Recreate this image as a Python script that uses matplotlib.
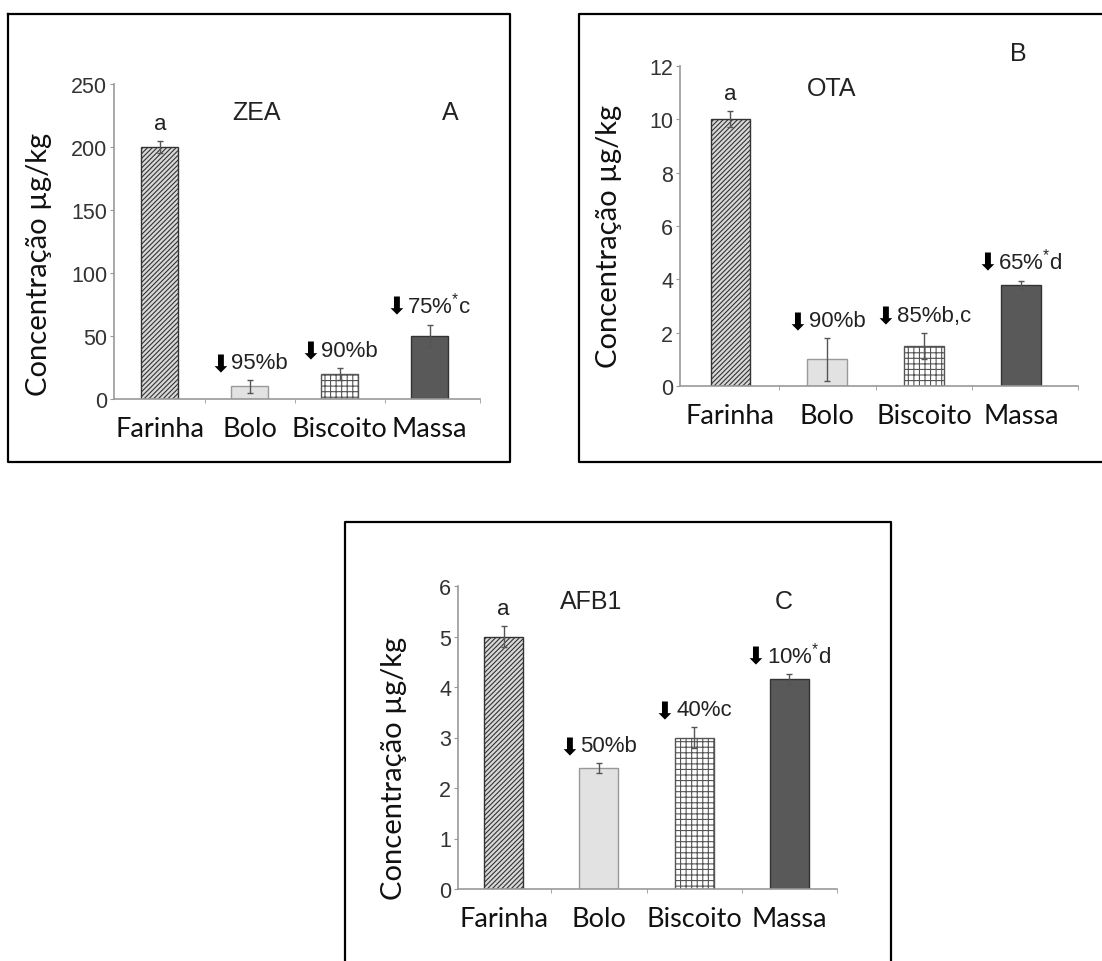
import matplotlib
matplotlib.use("Agg")
import matplotlib.pyplot as plt
from matplotlib.lines import Line2D
import numpy as np

W, H = 1102, 962

categories = ["Farinha", "Bolo", "Biscoito", "Massa"]

zea_values = [200, 10, 20, 50]
zea_errors = [5, 5, 5, 9]
zea_labels = ["a", "95%b", "90%b", "75%$^{*}$c"]

ota_values = [10, 1.0, 1.5, 3.8]
ota_errors = [0.3, 0.8, 0.5, 0.15]
ota_labels = ["a", "90%b", "85%b,c", "65%$^{*}$d"]

afb_values = [5.0, 2.4, 3.0, 4.15]
afb_errors = [0.2, 0.1, 0.2, 0.1]
afb_labels = ["a", "50%b", "40%c", "10%$^{*}$d"]

plt.rcParams.update({
    "hatch.linewidth": 0.8,
    "mathtext.fontset": "custom",
    "mathtext.rm": "Liberation Sans",
    "mathtext.it": "Liberation Sans:italic",
    "mathtext.bf": "Liberation Sans:bold",
})

styles = [
    dict(facecolor="#d8d8d8", edgecolor="#333333", hatch="///////"),
    dict(facecolor="#e2e2e2", edgecolor="#999999", hatch=None),
    dict(facecolor="white", edgecolor="#555555", hatch="+++"),
    dict(facecolor="#595959", edgecolor="#333333", hatch=None),
]

TICK_FONT = "Liberation Sans"
CAT_FONT = "Lato"

fig = plt.figure(figsize=(W / 100, H / 100), dpi=100)


def px_axes(l, t, r, b):
    return fig.add_axes([l / W, 1 - b / H, (r - l) / W, (b - t) / H])


def border(xs, ys):
    fig.add_artist(Line2D(np.array(xs) / W, 1 - np.array(ys) / H, color="black", lw=1.6,
                          transform=fig.transFigure))


def panel(ax, values, errors, labels, ymax, yticks, xlim, title, title_x, title_y, letter, letter_x, letter_y,
          ylab_pos):
    x = np.arange(len(values))
    for i in x:
        ax.bar(i, values[i], width=0.41, linewidth=1.0, **styles[i])
    ax.errorbar(x, values, yerr=errors, fmt="none", ecolor="#555555", elinewidth=1.0, capsize=2.5, capthick=1.0)
    for i in x:
        if i == 0:
            ax.annotate(labels[i], (i, values[i] + errors[i]), xytext=(0, 5), textcoords="offset points",
                        ha="center", va="bottom", fontsize=16, color="#222222", family=TICK_FONT)
            continue
        t = ax.annotate(labels[i], (i, values[i] + errors[i]), xytext=(7, 5), textcoords="offset points",
                        ha="center", va="bottom", fontsize=16, color="#222222", family=TICK_FONT)
        ax.annotate("\u2b07", xy=(0, 0.42), xycoords=t, xytext=(-1, 0), textcoords="offset points",
                    ha="right", va="center", fontsize=17, color="black", family="DejaVu Sans",
                    fontweight="bold")
    ax.set_xlim(*xlim)
    ax.set_ylim(0, ymax)
    ax.set_yticks(yticks)
    ax.set_yticklabels([str(t) for t in yticks], fontsize=15.5, family=TICK_FONT, color="#333333")
    ax.set_xticks(x)
    ax.set_xticklabels(categories, fontsize=19.5, family=CAT_FONT, color="#111111")
    ax.set_xticks([0.5, 1.5, 2.5, xlim[1]], minor=True)
    ax.tick_params(axis="x", which="major", length=0, pad=12)
    ax.tick_params(axis="x", which="minor", length=3, color="#999999", direction="out")
    ax.tick_params(axis="y", length=3, color="#999999", pad=2)
    for s in ["top", "right"]:
        ax.spines[s].set_visible(False)
    for s in ["left", "bottom"]:
        ax.spines[s].set_color("#999999")
        ax.spines[s].set_linewidth(1.2)
    ax.set_ylabel("Concentração µg/kg", fontsize=21, family=CAT_FONT, color="#111111")
    ax.yaxis.set_label_coords(*ylab_pos)
    ax.text(title_x, title_y, title, transform=ax.transAxes, fontsize=18, family=TICK_FONT,
            color="#222222", ha="center", va="center")
    ax.text(letter_x, letter_y, letter, transform=ax.transAxes, fontsize=18, family=TICK_FONT,
            color="#222222", ha="center", va="center")


ax_a = px_axes(114, 85, 480, 400)
panel(ax_a, zea_values, zea_errors, zea_labels, 250, [0, 50, 100, 150, 200, 250], (-0.51, 3.56),
      "ZEA", 0.39, 0.91, "A", 0.92, 0.91, (-0.17, 0.43))

ax_b = px_axes(680, 67, 1078, 387)
panel(ax_b, ota_values, ota_errors, ota_labels, 12, [0, 2, 4, 6, 8, 10, 12], (-0.52, 3.59),
      "OTA", 0.38, 0.93, "B", 0.85, 1.04, (-0.146, 0.47))

ax_c = px_axes(458, 587, 837, 890)
panel(ax_c, afb_values, afb_errors, afb_labels, 6, [0, 1, 2, 3, 4, 5, 6], (-0.48, 3.5),
      "AFB1", 0.35, 0.95, "C", 0.86, 0.95, (-0.135, 0.40))

border([8, 510, 510, 8, 8], [15, 15, 463, 463, 15])
border([1101, 579, 579, 1101], [15, 15, 463, 463])
border([345, 345, 891, 891], [962, 523, 523, 962])

fig.savefig("out.png", dpi=100, facecolor="white")
